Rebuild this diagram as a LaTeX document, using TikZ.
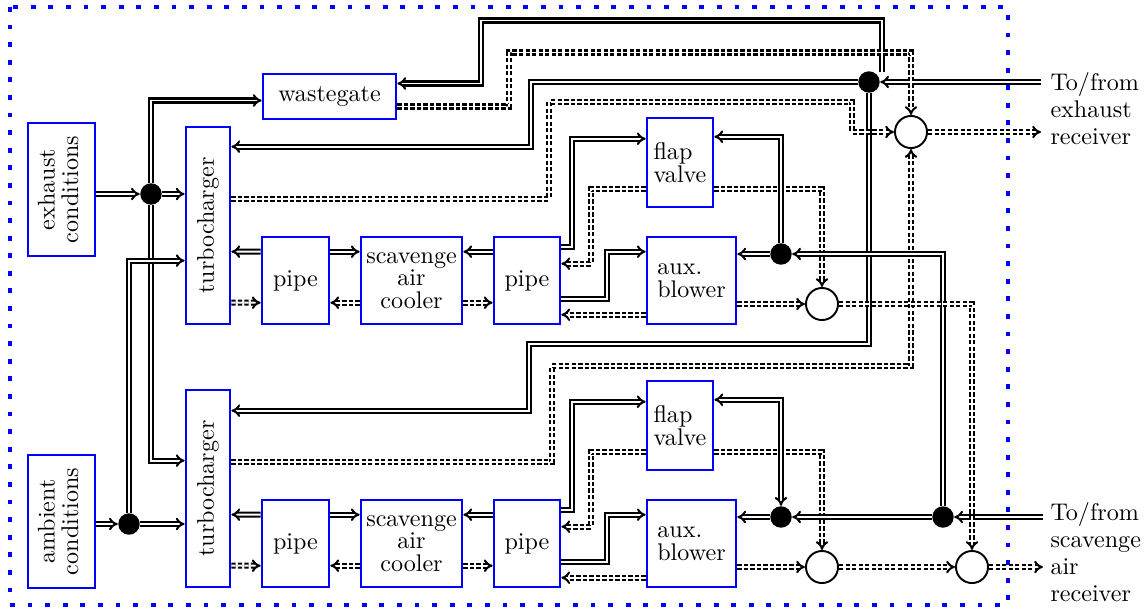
\documentclass[tikz,border=0pt]{standalone}
\usepackage{tikz}
\usetikzlibrary{arrows.meta,calc}

\tikzset{
  blk/.style={draw=blue,line width=1.1pt,inner sep=1pt,align=center,font=\fontsize{10}{9.4}\selectfont},
  flow/.style={double,line width=0.85pt,double distance=0.8pt,-{Implies}},
  sig/.style={flow,dash pattern=on 1.8pt off 0.9pt},
  jn/.style={circle,fill,inner sep=0pt,minimum size=8.9pt},
  mx/.style={circle,draw,line width=0.8pt,fill=white,inner sep=0pt,minimum size=13.3pt},
  lbl/.style={align=left,inner sep=0pt,anchor=north west,font=\fontsize{10}{11.2}\selectfont}
}

\begin{document}
\begin{tikzpicture}[x=0.415pt,y=-0.415pt]
  \useasboundingbox (0,0) rectangle (1145,612);
  % engine boundary
  \draw[blue,line width=2pt,dash pattern=on 2pt off 5.3pt] (10,7) rectangle (1008,605);
  % boundary conditions, wastegate
  \node[blk,minimum width=27.8pt,minimum height=55.2pt] (exh) at (61.5,189.5) {\rotatebox{90}{\begin{tabular}{@{}c@{}}exhaust\\conditions\end{tabular}}};
  \node[blk,minimum width=27.8pt,minimum height=55.2pt] (amb) at (61.5,521.5) {\rotatebox{90}{\begin{tabular}{@{}c@{}}ambient\\conditions\end{tabular}}};
  \node[blk,minimum width=55.2pt,minimum height=18.7pt] (wg) at (329.5,96.5) {wastegate};
  % the two charging lines
  \foreach \i/\y in {1/0,2/263} {
    \node[blk,minimum width=18.3pt,minimum height=81.8pt] (tc\i) at (208,225.5+\y) {\rotatebox{90}{turbocharger}};
    \node[blk,minimum width=27.8pt,minimum height=36.1pt] (pA\i) at (295.5,280.5+\y) {pipe};
    \node[blk,minimum width=41.9pt,minimum height=36.1pt] (sac\i) at (411.5,280.5+\y) {scavenge\\air\\cooler};
    \node[blk,minimum width=27.4pt,minimum height=36.1pt] (pB\i) at (527,280.5+\y) {pipe};
    \node[blk,align=left,minimum width=27.4pt,minimum height=36.9pt] (fv\i) at (680,162.5+\y) {flap\\valve};
    \node[blk,align=left,minimum width=36.9pt,minimum height=36.1pt] (ab\i) at (691.5,280.5+\y) {aux.\\blower};
  }
  % junctions and mixers
  \node[jn] (jex) at (151,194) {};
  \node[jn] (jam) at (129,524) {};
  \node[jn] (jer) at (869,82) {};
  \node[jn] (jsc1) at (781,254) {};
  \node[jn] (jsc2) at (781,517) {};
  \node[jn] (jsr) at (943,517) {};
  \node[mx] (mix1) at (911,132) {};
  \node[mx] (mix2) at (822,304) {};
  \node[mx] (mix3) at (822,567) {};
  \node[mx] (mix4) at (972,567) {};
  % receivers
  \node[lbl] (exlbl) at (1050,72) {To/from\\exhaust\\receiver};
  \node[lbl] (sclbl) at (1050,502) {To/from\\scavenge\\air\\receiver};
  \coordinate (exend) at ($(exlbl.west)+(-9,0)$);
  \coordinate (scend) at ($(sclbl.west)+(-7,0)$);

  % inlet side
  \draw[flow] (exh.east |- jex) -- (jex);
  \draw[flow] (jex) -- (tc1.west |- jex);
  \draw[flow] (jex) |- ($(wg.west)+(0,4)$);
  \draw[flow] (jex) |- ($(tc2.north west)+(0,72)$);
  \draw[flow] (amb.east |- jam) -- (jam);
  \draw[flow] (jam) -- (tc2.west |- jam);
  \draw[flow] (jam) |- ($(tc1.north west)+(0,135)$);
  % exhaust receiver
  \draw[flow] (exend |- jer) -- (jer);
  \draw[flow] ($(jer)+(13,-10)$) |- ($(wg.east)+(84,-76)$) |- ($(wg.east)+(0,-13)$);
  \draw[flow] (jer) -| ($(tc1.north east)+(300,21)$) -- ($(tc1.north east)+(0,21)$);
  \draw[flow] (jer) |- ($(tc2.north east)+(298,-45)$) |- ($(tc2.north east)+(0,22)$);
  \draw[sig] ($(wg.east)+(0,10)$) -| ($(wg.east)+(112,-44)$) -| (mix1);
  \draw[sig] ($(tc1.north east)+(0,73)$) -| ($(mix1.west)+(-345,-30)$) -| ($(mix1.west)+(-42,0)$) -- (mix1);
  \draw[sig] ($(tc2.north east)+(0,73)$) -| ($(mix1.south)+(-359,217)$) -| (mix1);
  \draw[sig] (mix1) -- (exend |- mix1);
  % charge air path, both lines
  \foreach \i/\j/\m in {1/jsc1/mix2,2/jsc2/mix3} {
    \draw[flow] ($(pA\i.north west)+(0,16)$) -- ($(tc\i.north east)+(0,126)$);
    \draw[sig] ($(tc\i.north east)+(0,177)$) -- ($(pA\i.north west)+(0,67)$);
    \draw[flow] ($(pA\i.north east)+(0,16)$) -- ($(sac\i.north west)+(0,16)$);
    \draw[sig] ($(sac\i.north west)+(0,67)$) -- ($(pA\i.north east)+(0,67)$);
    \draw[flow] ($(pB\i.north west)+(0,16)$) -- ($(sac\i.north east)+(0,16)$);
    \draw[sig] ($(sac\i.north east)+(0,67)$) -- ($(pB\i.north west)+(0,67)$);
    \draw[flow] ($(pB\i.north east)+(0,11)$) -| ($(fv\i.north west)+(-74,22)$) -- ($(fv\i.north west)+(0,22)$);
    \draw[sig] ($(fv\i.north west)+(0,72)$) -| ($(pB\i.north east)+(30,28)$) -- ($(pB\i.north east)+(0,28)$);
    \draw[flow] ($(pB\i.north east)+(0,63)$) -| ($(ab\i.north west)+(-39,16)$) -- ($(ab\i.north west)+(0,16)$);
    \draw[sig] ($(ab\i.north west)+(0,79)$) -- ($(pB\i.north east)+(0,79)$);
    \draw[flow] (\j) -- (ab\i.east |- \j);
    \draw[sig] ($(fv\i.north east)+(0,72)$) -| (\m);
    \draw[sig] (ab\i.east |- \m) -- (\m);
  }
  \draw[flow,{Implies}-] ($(fv1.north east)+(0,20)$) -| (jsc1);
  \draw[flow,{Implies}-{Implies}] ($(fv2.north east)+(0,20)$) -| (jsc2);
  % scavenge air receiver
  \draw[flow] (scend |- jsr) -- (jsr);
  \draw[flow] (jsr) -- (jsc2);
  \draw[flow] (jsr) |- (jsc1);
  \draw[sig] (mix2) -| (mix4);
  \draw[sig] (mix3) -- (mix4);
  \draw[sig] (mix4) -- (scend |- mix4);
\end{tikzpicture}
\end{document}
